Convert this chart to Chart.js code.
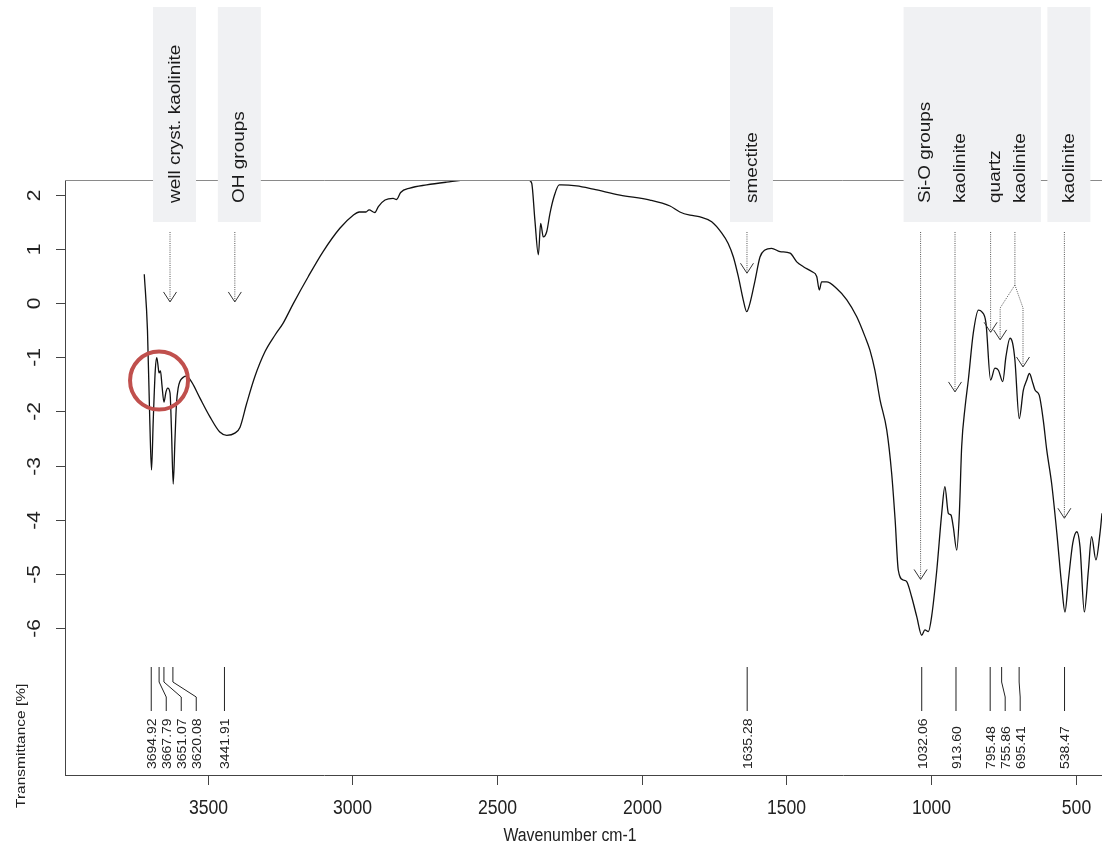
<!DOCTYPE html>
<html>
<head>
<meta charset="utf-8">
<script src="https://cdn.jsdelivr.net/npm/chart.js@4.4.0/dist/chart.umd.min.js"></script>
<style>
  body { margin: 0; background: #fff; }
  canvas { display: block; }
</style>
</head>
<body>
<canvas id="spec" width="1102" height="852"></canvas>
<script>
// spectrum (wavenumber cm-1 / transmittance)
var wavenumber = [3719, 3708, 3700, 3694, 3688, 3681, 3676, 3672, 3668, 3663,
  3658, 3651, 3644, 3638, 3630, 3625, 3619, 3613, 3608, 3602,
  3584, 3573, 3555, 3527, 3492, 3458, 3434, 3406, 3388, 3365,
  3337, 3302, 3267, 3239, 3204, 3152, 3101, 3043, 2997, 2976,
  2953, 2942, 2922, 2910, 2887, 2859, 2847, 2833, 2801, 2743,
  2674, 2605, 2490, 2390, 2380, 2369, 2357, 2349, 2340, 2328,
  2317, 2303, 2285, 2277, 2225, 2167, 2075, 1971, 1902, 1868,
  1833, 1798, 1758, 1723, 1701, 1683, 1666, 1649, 1637, 1626,
  1608, 1591, 1574, 1551, 1522, 1487, 1464, 1441, 1412, 1395,
  1386, 1378, 1361, 1326, 1291, 1257, 1228, 1211, 1194, 1176,
  1153, 1136, 1124, 1113, 1096, 1084, 1067, 1049, 1032, 1021,
  1009, 998, 980, 963, 952, 940, 931, 923, 911, 902,
  894, 882, 871, 854, 836, 825, 810, 794, 779, 767,
  752, 741, 727, 718, 710, 695, 681, 669, 660, 648,
  640, 626, 612, 600, 583, 565, 548, 537, 525, 510,
  496, 485, 470, 456, 445, 430, 416, 409];
var transmittance = [0.53, -0.50, -2.16, -3.08, -2.16, -1.24, -1.01, -1.13, -1.29, -1.25,
  -1.51, -1.83, -1.64, -1.57, -1.66, -2.34, -3.34, -2.53, -1.88, -1.57,
  -1.37, -1.35, -1.46, -1.75, -2.10, -2.38, -2.44, -2.40, -2.29, -1.85,
  -1.36, -0.90, -0.59, -0.37, -0.01, 0.49, 0.95, 1.38, 1.62, 1.68,
  1.68, 1.72, 1.67, 1.78, 1.90, 1.93, 1.91, 2.04, 2.12, 2.18,
  2.23, 2.27, 2.27, 2.27, 2.21, 1.53, 0.89, 1.47, 1.22, 1.32,
  1.65, 1.96, 2.18, 2.18, 2.16, 2.10, 1.99, 1.90, 1.79, 1.68,
  1.62, 1.59, 1.50, 1.29, 1.10, 0.85, 0.49, 0.06, -0.16, -0.01,
  0.42, 0.85, 0.98, 1.01, 0.95, 0.92, 0.76, 0.67, 0.58, 0.49,
  0.24, 0.39, 0.39, 0.27, 0.06, -0.25, -0.62, -0.87, -1.24, -1.79,
  -2.34, -3.14, -4.00, -4.93, -5.11, -5.14, -5.42, -5.79, -6.13, -6.03,
  -6.06, -5.79, -4.93, -3.88, -3.39, -3.88, -3.91, -4.13, -4.56, -3.88,
  -2.65, -1.91, -1.42, -0.56, -0.13, -0.16, -0.37, -1.42, -1.20, -1.24,
  -1.45, -0.99, -0.65, -0.74, -1.05, -2.13, -1.61, -1.42, -1.30, -1.48,
  -1.61, -1.70, -2.16, -2.71, -3.33, -4.25, -5.23, -5.70, -5.11, -4.43,
  -4.22, -4.50, -5.70, -4.93, -4.31, -4.74, -4.25, -3.88];

// tick labels
var xTicks = [3500, 3000, 2500, 2000, 1500, 1000, 500];
var yTicks = [2, 1, 0, -1, -2, -3, -4, -5, -6];

// picked peaks (bottom labels)
var peaks = [3694.92, 3667.79, 3651.07, 3620.08, 3441.91, 1635.28,
  1032.06, 913.60, 795.48, 755.86, 695.41, 538.47];

// band assignments (top labels), where the label sits and where its arrows point
var bandNames = ['well cryst. kaolinite', 'OH groups', 'smectite', 'Si-O groups',
  'kaolinite', 'quartz', 'kaolinite', 'kaolinite'];
var bandAt = [3630, 3406, 1636, 1036, 917, 794, 710, 539];
var bandTargets = [
  [[3630, 0.02]],
  [[3406, 0.02]],
  [[1636, 0.55]],
  [[1036, -5.1]],
  [[917, -1.64]],
  [[794, -0.54]],
  [[761, -0.68], [682, -1.18]],
  [[539, -3.97]]
];

// red ring round the OH stretching doublets
var ringAt = [3668, -1.43];

var SX = 0.88; // picture is a bit squeezed sideways
var FONT = '"Liberation Sans", Arial, sans-serif';

function txt(ctx, s, x, y, size, rot, align, base, color) {
  ctx.save();
  ctx.translate(x, y);
  ctx.scale(SX, 1);
  ctx.rotate(rot);
  ctx.font = size + 'px ' + FONT;
  ctx.fillStyle = color || '#222';
  ctx.textAlign = align;
  ctx.textBaseline = base;
  ctx.fillText(s, 0, 0);
  ctx.restore();
}

function seg(ctx, pts) {
  ctx.beginPath();
  ctx.moveTo(pts[0][0], pts[0][1]);
  for (var i = 1; i < pts.length; i++) ctx.lineTo(pts[i][0], pts[i][1]);
  ctx.stroke();
}

var decor = {
  id: 'decor',
  afterDraw: function(chart) {
    var ctx = chart.ctx, a = chart.chartArea;
    var xs = chart.scales.x, ys = chart.scales.y;
    var UP = -Math.PI / 2;
    ctx.save();

    // grey top frame line
    ctx.strokeStyle = '#8a8a8a';
    ctx.lineWidth = 1;
    seg(ctx, [[a.left, a.top + 0.5], [a.right, a.top + 0.5]]);

    // axis ticks + labels
    ctx.strokeStyle = '#444';
    yTicks.forEach(function(v) {
      var y = Math.round(ys.getPixelForValue(v)) + 0.5;
      seg(ctx, [[a.left - 9, y], [a.left, y]]);
      txt(ctx, String(v), 35, y, 21, UP, 'center', 'middle');
    });
    xTicks.forEach(function(v) {
      var x = Math.round(xs.getPixelForValue(v)) + 0.5;
      seg(ctx, [[x, a.bottom], [x, a.bottom + 10]]);
      txt(ctx, String(v), x, 808, 20, 0, 'center', 'middle');
    });
    txt(ctx, 'Wavenumber cm-1', 570, 836, 18, 0, 'center', 'middle');
    txt(ctx, 'Transmittance [%]', 21, 808, 15.5, UP, 'left', 'middle');

    // band label boxes
    ctx.fillStyle = '#f0f1f3';
    bandAt.forEach(function(w) {
      var cx = xs.getPixelForValue(w) + 4.5;
      ctx.fillRect(cx - 21.5, 7, 43, 215);
    });
    bandNames.forEach(function(s, i) {
      var cx = xs.getPixelForValue(bandAt[i]) + 5;
      txt(ctx, s, cx, 203, 19, UP, 'left', 'middle', '#1a1a1a');
    });

    // dotted arrows
    bandAt.forEach(function(w, i) {
      var ax = xs.getPixelForValue(w);
      var tg = bandTargets[i];
      ctx.strokeStyle = '#555';
      ctx.lineWidth = 1;
      ctx.setLineDash([1, 1.2]);
      if (tg.length === 1) {
        seg(ctx, [[ax, 232], [xs.getPixelForValue(tg[0][0]), ys.getPixelForValue(tg[0][1])]]);
      } else {
        seg(ctx, [[ax, 232], [ax, 285]]);
        tg.forEach(function(t) {
          var tx = xs.getPixelForValue(t[0]);
          seg(ctx, [[ax, 285], [tx, 308], [tx, ys.getPixelForValue(t[1])]]);
        });
      }
      ctx.setLineDash([]);
      ctx.strokeStyle = '#333';
      tg.forEach(function(t) {
        var tx = xs.getPixelForValue(t[0]), ty = ys.getPixelForValue(t[1]);
        seg(ctx, [[tx - 6.5, ty - 10], [tx, ty], [tx + 6.5, ty - 10]]);
      });
    });

    // peak marks at the bottom, pushed apart where they crowd
    ctx.strokeStyle = '#222';
    ctx.lineWidth = 1;
    var prev = -1e9;
    peaks.forEach(function(p) {
      var x0 = xs.getPixelForValue(p);
      var x1 = Math.max(x0, prev + 15);
      prev = x1;
      seg(ctx, [[x0, 667], [x0, 682], [x1, 697], [x1, 711]]);
      txt(ctx, p.toFixed(2), x1 + 1.5, 769, 14, UP, 'left', 'middle', '#222');
    });

    // highlight ring
    ctx.strokeStyle = '#c0504d';
    ctx.lineWidth = 4;
    ctx.beginPath();
    ctx.arc(xs.getPixelForValue(ringAt[0]), ys.getPixelForValue(ringAt[1]), 29, 0, Math.PI * 2);
    ctx.stroke();

    ctx.restore();
  }
};

var ctx = document.getElementById('spec').getContext('2d');
var chart = new Chart(ctx, {
  type: 'line',
  data: {
    datasets: [{
      data: wavenumber.map(function(w, i) { return { x: w, y: transmittance[i] }; }),
      borderColor: '#111',
      borderWidth: 1.3,
      pointRadius: 0,
      fill: false,
      cubicInterpolationMode: 'monotone'
    }]
  },
  options: {
    responsive: false,
    animation: false,
    devicePixelRatio: 1,
    layout: { padding: { top: 180, left: 0, right: 0, bottom: 0 } },
    plugins: { legend: { display: false }, tooltip: { enabled: false } },
    scales: {
      x: {
        type: 'linear',
        reverse: true,
        min: 409,
        max: 3993,
        grid: { display: false },
        border: { display: true, color: '#444', width: 1 },
        ticks: { display: false },
        afterFit: function(s) { s.height = 77; }
      },
      y: {
        min: -8.708,
        max: 2.27,
        grid: { display: false },
        border: { display: true, color: '#444', width: 1 },
        ticks: { display: false },
        afterFit: function(s) { s.width = 65; }
      }
    }
  },
  plugins: [decor]
});
</script>
</body>
</html>
